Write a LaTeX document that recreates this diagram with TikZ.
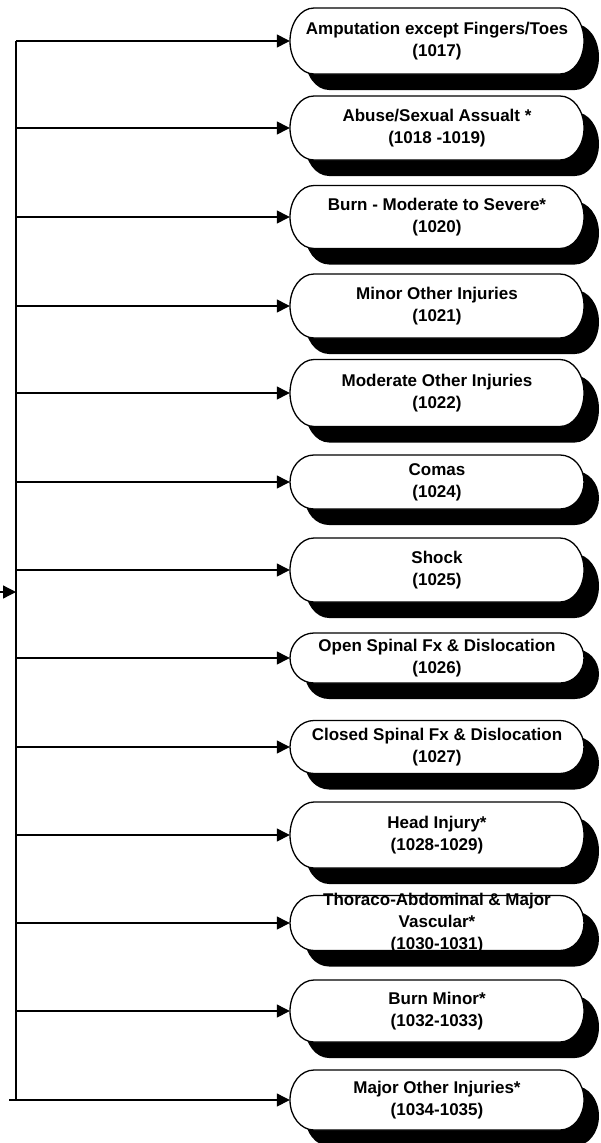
\documentclass[tikz,border=0pt]{standalone}
\usepackage{fontspec}
\setmainfont{Liberation Sans}
\usetikzlibrary{arrows.meta, calc}

\tikzset{
  flowline/.style={line width=1.3pt, draw=black},
  flowarrow/.style={flowline, -{Triangle[length=13pt, width=13pt]}},
  pilltext/.style={font=\fontsize{17}{22}\selectfont\bfseries, align=center,
    inner sep=0pt, minimum width=294pt},
  pilledge/.style={line width=1.3pt, draw=black, fill=white},
}

\begin{document}
\begin{tikzpicture}[x=1pt, y=-1pt]
  \useasboundingbox (0,0) rectangle (600,1143);
  \def\bx{437}  % box centre
  \def\hw{147}  % half box width
  \def\rx{24}   % end curve radius
  \foreach \i/\yy/\hh/\txt in {
      1/41/66/{Amputation except Fingers/Toes\\(1017)},
      2/128/64/{Abuse/Sexual Assualt *\\(1018 -1019)},
      3/217/63/{Burn - Moderate to Severe*\\(1020)},
      4/306/64/{Minor Other Injuries\\(1021)},
      5/393/67/{Moderate Other Injuries\\(1022)},
      6/482/54/{Comas\\(1024)},
      7/570/64/{Shock\\(1025)},
      8/658/50/{Open Spinal Fx \& Dislocation\\(1026)},
      9/747/53/{Closed Spinal Fx \& Dislocation\\(1027)},
      10/835/66/{Head Injury*\\(1028-1029)},
      11/923/55/{Thoraco-Abdominal \& Major\\Vascular*\\(1030-1031)},
      12/1011/62/{Burn Minor*\\(1032-1033)},
      13/1100/60/{Major Other Injuries*\\(1034-1035)}}
  {
    \pgfmathsetmacro{\ry}{\hh/2}
    \pgfmathsetlengthmacro{\ryl}{\hh/2}
    % shadow
    \fill[black, shift={(15,16)}]
      (\bx-\hw+\rx,\yy-\ry) -- (\bx+\hw-\rx,\yy-\ry)
      arc[start angle=90, end angle=-90, x radius=24pt, y radius=\ryl]
      -- (\bx-\hw+\rx,\yy+\ry)
      arc[start angle=270, end angle=90, x radius=24pt, y radius=\ryl] -- cycle;
    % box
    \path[pilledge]
      (\bx-\hw+\rx,\yy-\ry) -- (\bx+\hw-\rx,\yy-\ry)
      arc[start angle=90, end angle=-90, x radius=24pt, y radius=\ryl]
      -- (\bx-\hw+\rx,\yy+\ry)
      arc[start angle=270, end angle=90, x radius=24pt, y radius=\ryl] -- cycle;
    \node[pilltext] (b\i) at (\bx,\yy) {\txt};
  }

  % trunk and branches
  \coordinate (top) at (16,41);
  \coordinate (bot) at (16,1100);
  \coordinate (tail) at (9,1100);
  \coordinate (feed) at (0,592);
  \draw[flowline] (top) -- (bot);
  \draw[flowarrow] (feed) -- (feed -| top);
  \foreach \i in {1,...,12}
    \draw[flowarrow] (top |- b\i.west) -- (b\i.west);
  \draw[flowarrow] (tail) -- (b13.west);
\end{tikzpicture}
\end{document}
